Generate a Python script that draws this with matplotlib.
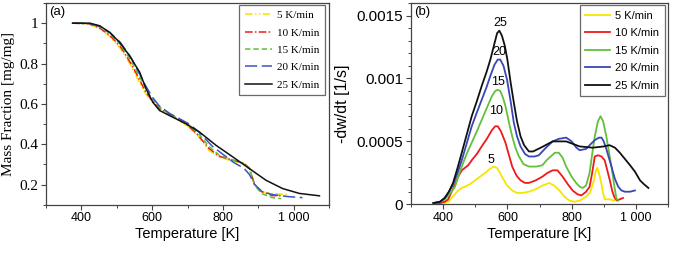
import numpy as np
import matplotlib
matplotlib.use("Agg")
import matplotlib.pyplot as plt
from matplotlib.ticker import AutoMinorLocator, FixedLocator

# heating rates
rates = ["5 K/min", "10 K/min", "15 K/min", "20 K/min", "25 K/min"]

# (a) mass fraction curves
tg_x5 = [375, 420, 450, 480, 510, 540, 560, 580, 600, 620, 650, 700, 730, 760, 790, 830, 860, 875, 890, 910, 940, 985]
tg_y5 = [1.0, 0.997, 0.975, 0.935, 0.875, 0.79, 0.72, 0.655, 0.61, 0.575, 0.545, 0.49, 0.44, 0.37, 0.335, 0.315, 0.305, 0.27, 0.19, 0.165, 0.155, 0.15]
tg_x10 = [375, 420, 450, 480, 510, 540, 560, 580, 600, 620, 650, 700, 730, 760, 790, 830, 860, 875, 890, 910, 940, 970]
tg_y10 = [1.0, 0.997, 0.978, 0.94, 0.885, 0.80, 0.735, 0.665, 0.615, 0.578, 0.548, 0.495, 0.445, 0.38, 0.34, 0.32, 0.305, 0.28, 0.2, 0.165, 0.145, 0.145]
tg_x15 = [375, 420, 450, 480, 510, 540, 560, 580, 600, 620, 650, 700, 730, 760, 790, 830, 860, 875, 890, 910, 940, 965]
tg_y15 = [1.0, 0.998, 0.982, 0.95, 0.895, 0.815, 0.75, 0.68, 0.625, 0.585, 0.55, 0.5, 0.455, 0.39, 0.345, 0.32, 0.305, 0.28, 0.195, 0.155, 0.135, 0.13]
tg_x20 = [375, 420, 450, 480, 510, 540, 560, 580, 600, 620, 650, 700, 730, 770, 800, 830, 860, 875, 890, 910, 940, 985, 1025]
tg_y20 = [1.0, 0.999, 0.985, 0.955, 0.905, 0.83, 0.765, 0.695, 0.635, 0.59, 0.552, 0.505, 0.465, 0.39, 0.35, 0.31, 0.28, 0.25, 0.2, 0.165, 0.15, 0.14, 0.135]
tg_x25 = [375, 424, 452, 480, 508, 536, 565, 583, 602, 621, 649, 696, 734, 781, 828, 875, 922, 969, 1016, 1073]
tg_y25 = [1.0, 1.0, 0.987, 0.954, 0.905, 0.839, 0.756, 0.674, 0.608, 0.567, 0.542, 0.501, 0.46, 0.394, 0.337, 0.279, 0.221, 0.18, 0.156, 0.144]

# (b) -dw/dt curves
dtg_x5 = [370, 395, 416, 430, 447, 458, 468, 483, 499, 515, 531, 545, 557, 567, 575, 583, 599, 615, 630, 646, 667, 688,
          710, 730, 745, 762, 778, 793, 810, 825, 845, 856, 864, 870, 876, 880, 886, 893, 898, 903, 918, 930, 939]
dtg_y5 = [0.00001, 0.00001, 0.00002, 0.00006, 0.00011, 0.00013, 0.00014, 0.00016, 0.00019, 0.00022, 0.00025, 0.00028,
          0.0003, 0.00029, 0.00026, 0.00022, 0.00015, 0.00011, 0.00009, 0.00009, 0.0001, 0.00012, 0.00015, 0.00017,
          0.00015, 0.00011, 0.00006, 0.00003, 0.00002, 0.00003, 0.00006, 0.00009, 0.00014, 0.0002, 0.00027, 0.00029,
          0.00024, 0.00016, 0.00009, 0.00004, 0.00004, 0.00003, 0.00003]
dtg_x10 = [370, 390, 405, 416, 430, 447, 458, 468, 478, 489, 505, 520, 536, 552, 562, 570, 580, 594, 605, 615, 628, 641,
           655, 667, 688, 709, 725, 741, 756, 772, 788, 803, 818, 830, 845, 856, 864, 872, 882, 893, 903, 911, 919, 927,
           934, 942, 950, 960]
dtg_y10 = [0.00001, 0.00001, 0.00002, 0.00004, 0.00012, 0.00022, 0.00027, 0.00029, 0.00031, 0.00035, 0.0004, 0.00046,
           0.00052, 0.00059, 0.00062, 0.00062, 0.00058, 0.00049, 0.00039, 0.0003, 0.00023, 0.00019, 0.00017, 0.00017,
           0.00019, 0.00022, 0.00025, 0.00027, 0.00027, 0.00022, 0.00016, 0.00011, 0.00008, 0.00007, 0.0001, 0.00014,
           0.00025, 0.00038, 0.00039, 0.00038, 0.00035, 0.00027, 0.00019, 0.0001, 0.00005, 0.00003, 0.00004, 0.00005]
dtg_x15 = [370, 390, 405, 420, 437, 447, 458, 473, 489, 505, 520, 535, 552, 562, 570, 578, 586, 594, 605, 615, 625, 636,
           650, 667, 690, 709, 722, 735, 748, 760, 772, 783, 800, 814, 825, 835, 845, 856, 864, 872, 882, 890, 898, 908,
           916, 924, 932, 939, 945]
dtg_y15 = [0.00001, 0.00002, 0.00004, 0.00008, 0.00014, 0.00022, 0.0003, 0.0004, 0.00049, 0.00058, 0.00067, 0.00076,
           0.00086, 0.0009, 0.00091, 0.0009, 0.00085, 0.00078, 0.00065, 0.00054, 0.00045, 0.00038, 0.00032, 0.0003,
           0.0003, 0.00031, 0.00035, 0.00038, 0.00041, 0.00041, 0.00037, 0.0003, 0.00022, 0.00017, 0.00014, 0.00013,
           0.00015, 0.00025, 0.0004, 0.00054, 0.00066, 0.0007, 0.00066, 0.00054, 0.00042, 0.0003, 0.00016, 0.00005,
           0.00003]
dtg_x20 = [370, 390, 405, 418, 431, 445, 458, 473, 489, 505, 520, 535, 547, 560, 570, 578, 588, 599, 610, 620, 630, 641,
           655, 667, 685, 698, 720, 741, 760, 783, 800, 815, 825, 845, 860, 872, 885, 893, 900, 908, 916, 924, 935, 945,
           955, 966, 982, 997]
dtg_y20 = [0.00001, 0.00002, 0.00005, 0.0001, 0.00016, 0.00025, 0.00035, 0.00048, 0.00062, 0.00073, 0.00083, 0.00093,
           0.00102, 0.00111, 0.00115, 0.00115, 0.0011, 0.00099, 0.00082, 0.00065, 0.00054, 0.00046, 0.0004, 0.00038,
           0.00038, 0.00039, 0.00045, 0.0005, 0.00052, 0.00053, 0.0005, 0.00045, 0.00043, 0.00044, 0.00048, 0.00051,
           0.00053, 0.00053, 0.0005, 0.00044, 0.00037, 0.0003, 0.0002, 0.00014, 0.00011, 0.0001, 0.0001, 0.00011]
dtg_x25 = [370, 390, 405, 418, 431, 445, 458, 473, 489, 505, 520, 535, 547, 560, 568, 575, 583, 592, 600, 610, 620, 630,
           641, 652, 667, 680, 704, 741, 783, 825, 866, 900, 918, 935, 950, 966, 982, 997, 1013, 1025, 1039]
dtg_y25 = [0.00001, 0.00002, 0.00005, 0.0001, 0.00017, 0.00029, 0.00041, 0.00055, 0.0007, 0.00082, 0.00094, 0.00105,
           0.00115, 0.00128, 0.00136, 0.00138, 0.00134, 0.00126, 0.00115, 0.00097, 0.00081, 0.00066, 0.00054, 0.00047,
           0.00042, 0.00042, 0.00045, 0.0005, 0.0005, 0.00046, 0.00045, 0.00046, 0.00047, 0.00045, 0.00041, 0.00036,
           0.00031, 0.00026, 0.00019, 0.00016, 0.00013]

# peak annotations
peak_text = ["25", "20", "15", "10", "5"]
peak_x = [579, 576, 570, 566, 548]
peak_y = [0.00144, 0.00121, 0.00097, 0.00074, 0.00035]

xticks = [400, 600, 800, 1000]
xtick_labels = ["400", "600", "800", "1 000"]

colors_a = ["#f5e400", "#ee1c1c", "#5cc23a", "#3a55c0", "#111111"]
styles_a = [(0, (5, 1.5, 1, 1.5, 1, 1.5)), (0, (5, 1.5, 1, 1.5)), (0, (3.5, 2)), (0, (8, 3)), "-"]
colors_b = ["#f5e600", "#ee1a1a", "#62c03a", "#3846b8", "#111111"]

serif = "Liberation Serif"
sans = "Liberation Sans"
spine_c = "#444444"

fig = plt.figure(figsize=(6.75, 2.56), dpi=100)
ax1 = fig.add_axes([46 / 675, 1 - 204.7 / 256, 283 / 675, 201.7 / 256])
ax2 = fig.add_axes([411 / 675, 1 - 204.3 / 256, 257 / 675, 201.3 / 256])

# ---- panel (a)
tg = [(tg_x5, tg_y5), (tg_x10, tg_y10), (tg_x15, tg_y15), (tg_x20, tg_y20), (tg_x25, tg_y25)]
for (x, y), c, ls, lab in zip(tg, colors_a, styles_a, rates):
    ax1.plot(x, y, color=c, linestyle=ls, lw=1.1, label=lab)
ax1.set_xlim(300, 1100)
ax1.set_ylim(0.1, 1.1)
ax1.xaxis.set_major_locator(FixedLocator(xticks))
ax1.set_xticklabels(xtick_labels, family=sans, fontsize=9)
ax1.set_yticks([0.2, 0.4, 0.6, 0.8, 1.0])
ax1.set_yticklabels(["0.2", "0.4", "0.6", "0.8", "1"], family=serif, fontsize=11)
ax1.set_xlabel("Temperature [K]", family=sans, fontsize=10.5, labelpad=2)
ax1.set_ylabel("Mass Fraction [mg/mg]", family=serif, fontsize=11, labelpad=3)
ax1.text(0.012, 0.985, "(a)", transform=ax1.transAxes, ha="left", va="top", family=sans, fontsize=9.5)
leg1 = ax1.legend(loc="upper right", bbox_to_anchor=(1 - 4 / 283, 1 - 2 / 201.7), borderaxespad=0,
                  prop={"family": serif, "size": 8}, frameon=True, fancybox=False,
                  handlelength=2.4, handletextpad=0.5, labelspacing=0.68, borderpad=0.5)

# ---- panel (b)
dtg = [(dtg_x5, dtg_y5), (dtg_x10, dtg_y10), (dtg_x15, dtg_y15), (dtg_x20, dtg_y20), (dtg_x25, dtg_y25)]
for (x, y), c, lab in zip(dtg, colors_b, rates):
    ax2.plot(x, y, color=c, lw=1.3, label=lab)
for t, x, y in zip(peak_text, peak_x, peak_y):
    ax2.text(x, y, t, ha="center", va="center", family=sans, fontsize=9)
ax2.set_xlim(300, 1100)
ax2.set_ylim(0, 0.0016)
ax2.xaxis.set_major_locator(FixedLocator(xticks))
ax2.set_xticklabels(xtick_labels, family=sans, fontsize=9)
ax2.set_yticks([0, 0.0005, 0.001, 0.0015])
ax2.set_yticklabels(["0", "0.0005", "0.001", "0.0015"], family=sans, fontsize=11)
ax2.set_xlabel("Temperature [K]", family=sans, fontsize=10.5, labelpad=2)
ax2.set_ylabel("-dw/dt [1/s]", family=sans, fontsize=11.5, labelpad=5)
ax2.text(0.012, 0.985, "(b)", transform=ax2.transAxes, ha="left", va="top", family=sans, fontsize=9.5)
leg2 = ax2.legend(loc="upper right", bbox_to_anchor=(1 - 3 / 257, 1 - 2 / 201.3), borderaxespad=0,
                  prop={"family": sans, "size": 8}, frameon=True, fancybox=False,
                  handlelength=2.2, handletextpad=0.5, labelspacing=0.68, borderpad=0.5)

for ax, leg, ymin in ((ax1, leg1, 2), (ax2, leg2, 5)):
    leg.get_frame().set_edgecolor(spine_c)
    leg.get_frame().set_linewidth(0.9)
    for s in ax.spines.values():
        s.set_color(spine_c)
        s.set_linewidth(0.9)
    ax.xaxis.set_minor_locator(AutoMinorLocator(2))
    ax.yaxis.set_minor_locator(AutoMinorLocator(ymin))
    ax.tick_params(which="major", direction="out", length=3.5, width=0.8, color=spine_c,
                   top=False, right=False, pad=2)
    ax.tick_params(which="minor", direction="out", length=2, width=0.7, color=spine_c,
                   top=False, right=False)

fig.savefig("out.png", dpi=100)
